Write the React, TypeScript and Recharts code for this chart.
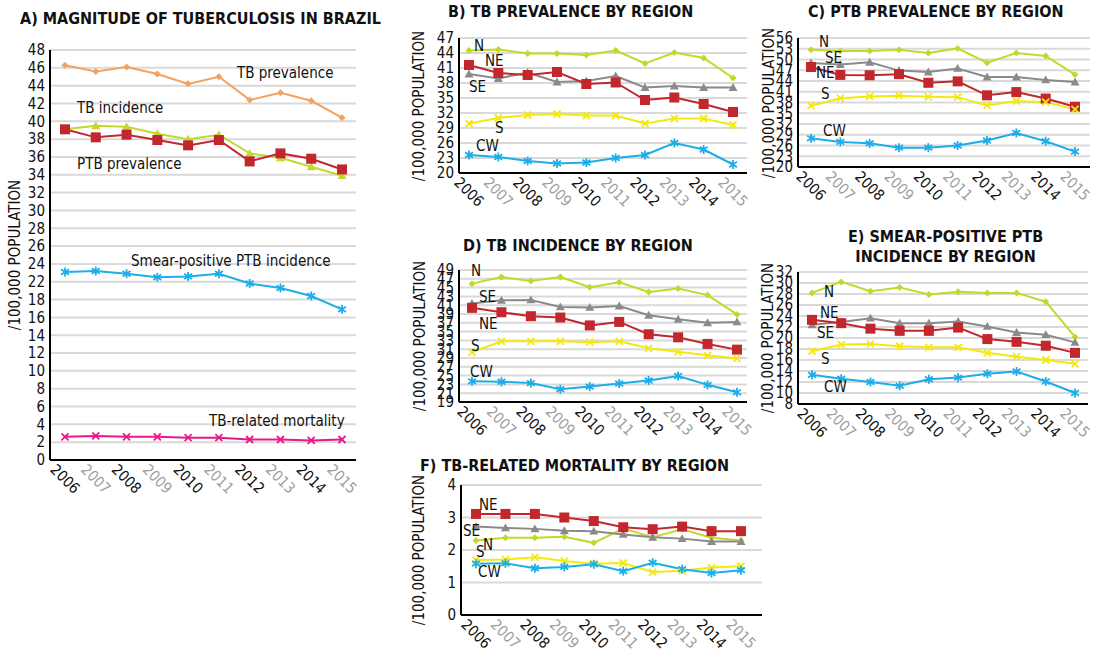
import React from "react";
import { LineChart, Line, XAxis, YAxis, CartesianGrid } from "recharts";

const FONT = "'DejaVu Sans Condensed', 'DejaVu Sans', sans-serif";

const YEARS = ["2006", "2007", "2008", "2009", "2010", "2011", "2012", "2013", "2014", "2015"];

// A) national series (per 100,000)
const A_TB_PREV = [46.3, 45.6, 46.1, 45.3, 44.2, 45.0, 42.4, 43.2, 42.3, 40.4];
const A_TB_INC = [39.1, 39.5, 39.4, 38.6, 38.0, 38.5, 36.4, 35.9, 34.9, 33.9];
const A_PTB_PREV = [39.1, 38.2, 38.5, 37.9, 37.3, 37.9, 35.5, 36.4, 35.8, 34.6];
const A_SMEAR = [23.1, 23.2, 22.9, 22.5, 22.6, 22.9, 21.6, 20.6, 18.8, 16.9];
const A_MORT = [2.6, 2.7, 2.6, 2.6, 2.5, 2.5, 2.3, 2.3, 2.2, 2.3];
// the original axis skips 20 (evenly spaced labels)
const A_TICKS = [0, 2, 4, 6, 8, 10, 12, 14, 16, 18, 22, 24, 26, 28, 30, 32, 34, 36, 38, 40, 42, 44, 46, 48];

// B) TB prevalence by region
const B_N = [44.5, 44.7, 43.9, 43.9, 43.6, 44.5, 41.9, 44.1, 43.0, 39.0];
const B_NE = [41.6, 40.0, 39.6, 40.2, 37.8, 38.1, 34.6, 35.1, 33.8, 32.2];
const B_SE = [39.8, 38.9, 40.1, 38.2, 38.4, 39.4, 37.1, 37.4, 37.1, 37.1];
const B_S = [29.9, 31.0, 31.6, 31.8, 31.5, 31.5, 29.9, 30.9, 30.9, 29.6];
const B_CW = [23.6, 23.2, 22.4, 21.9, 22.1, 23.0, 23.6, 26.0, 24.7, 21.7];

// C) PTB prevalence by region
const C_N = [52.7, 52.4, 52.4, 52.7, 51.8, 53.1, 49.1, 51.8, 51.0, 45.8];
const C_SE = [49.0, 48.6, 49.2, 46.9, 46.5, 47.5, 45.1, 45.1, 44.3, 43.7];
const C_NE = [47.9, 45.7, 45.6, 45.9, 43.5, 43.9, 40.0, 40.9, 39.1, 36.8];
const C_S = [37.1, 39.2, 39.7, 39.9, 39.6, 39.5, 37.2, 38.4, 38.1, 36.1];
const C_CW = [28.0, 27.0, 26.6, 25.4, 25.4, 26.0, 27.4, 29.5, 27.2, 24.3];

// D) TB incidence by region
const D_N = [45.9, 47.4, 46.5, 47.4, 45.1, 46.2, 44.0, 44.8, 43.3, 38.9];
const D_SE = [41.4, 42.1, 42.2, 40.6, 40.5, 40.8, 38.7, 37.8, 37.0, 37.2];
const D_NE = [40.4, 39.4, 38.5, 38.2, 36.4, 37.2, 34.4, 33.7, 32.2, 30.9];
const D_S = [30.3, 32.8, 32.8, 32.8, 32.6, 32.8, 31.2, 30.4, 29.6, 28.9];
const D_CW = [23.7, 23.6, 23.3, 21.9, 22.5, 23.2, 23.9, 24.9, 22.9, 21.2];

// E) smear-positive PTB incidence by region
const E_N = [28.2, 30.2, 28.5, 29.2, 27.9, 28.4, 28.2, 28.2, 26.6, 20.2];
const E_SE = [22.4, 22.9, 23.6, 22.7, 22.7, 23.0, 22.1, 21.0, 20.6, 19.2];
const E_NE = [23.3, 22.7, 21.7, 21.3, 21.3, 21.9, 19.8, 19.3, 18.6, 17.3];
const E_S = [17.6, 18.8, 18.9, 18.5, 18.3, 18.3, 17.3, 16.6, 16.0, 15.3];
const E_CW = [13.3, 12.6, 12.0, 11.3, 12.5, 12.8, 13.5, 13.9, 12.1, 10.0];

// F) TB-related mortality by region
const F_NE = [3.11, 3.11, 3.11, 3.0, 2.89, 2.7, 2.64, 2.72, 2.58, 2.58];
const F_SE = [2.72, 2.68, 2.65, 2.59, 2.58, 2.48, 2.39, 2.35, 2.26, 2.26];
const F_N = [2.29, 2.38, 2.38, 2.41, 2.22, 2.66, 2.39, 2.64, 2.38, 2.29];
const F_S = [1.69, 1.71, 1.78, 1.66, 1.58, 1.6, 1.32, 1.36, 1.46, 1.5];
const F_CW = [1.58, 1.59, 1.44, 1.48, 1.56, 1.35, 1.61, 1.41, 1.29, 1.38];

const GREEN = "#C6D72C";
const RED = "#C1272D";
const GRAY = "#8A8A8A";
const YELLOW = "#F4E90F";
const BLUE = "#1DADE9";
const ORANGE = "#F2A35F";
const PINK = "#E8198B";

type Shape = "diamond" | "triangle" | "square" | "x" | "star";
type Series = { key: string; values: number[]; color: string; shape: Shape; size: number };
type Note = { text: string; x: number; y: number };

const range = (a: number, b: number, step: number) => {
  const out: number[] = [];
  for (let v = a; v <= b + 1e-9; v += step) out.push(v);
  return out;
};

// position of a value on the evenly spaced (broken) axis of panel A
const toIdx = (v: number) => {
  for (let i = 0; i < A_TICKS.length - 1; i++) {
    if (v <= A_TICKS[i + 1]) return i + (v - A_TICKS[i]) / (A_TICKS[i + 1] - A_TICKS[i]);
  }
  return A_TICKS.length - 1;
};

function Marker({ cx, cy, shape, color, size }: any) {
  if (cx == null || cy == null) return null;
  const s = size / 2;
  if (shape === "diamond")
    return <polygon points={`${cx},${cy - s} ${cx + s},${cy} ${cx},${cy + s} ${cx - s},${cy}`} fill={color} />;
  if (shape === "triangle")
    return <polygon points={`${cx},${cy - s} ${cx + s},${cy + s * 0.75} ${cx - s},${cy + s * 0.75}`} fill={color} />;
  if (shape === "square") return <rect x={cx - s} y={cy - s} width={size} height={size} fill={color} />;
  if (shape === "x")
    return (
      <g stroke={color} strokeWidth={1.8}>
        <line x1={cx - s} y1={cy - s} x2={cx + s} y2={cy + s} />
        <line x1={cx - s} y1={cy + s} x2={cx + s} y2={cy - s} />
      </g>
    );
  return (
    <g stroke={color} strokeWidth={1.8}>
      <line x1={cx} y1={cy - s} x2={cx} y2={cy + s} />
      <line x1={cx - s * 0.87} y1={cy - s * 0.6} x2={cx + s * 0.87} y2={cy + s * 0.6} />
      <line x1={cx - s * 0.87} y1={cy + s * 0.6} x2={cx + s * 0.87} y2={cy - s * 0.6} />
    </g>
  );
}

const YAW = 50;
const XAH = 50;
const MT = 12;
const MR = 8;

type PanelProps = {
  left: number;
  top: number;
  right: number;
  bottom: number;
  domain: [number, number];
  ticks: number[];
  pad: [number, number];
  series: Series[];
  notes: Note[];
  labelX: number;
  mapY?: (v: number) => number;
  fmt?: (v: number) => string;
};

function Panel({ left, top, right, bottom, domain, ticks, pad, series, notes, labelX, mapY, fmt }: PanelProps) {
  const data = YEARS.map((year, i) => {
    const row: any = { year };
    series.forEach((s) => (row[s.key] = s.values[i]));
    return row;
  });
  const width = right - left + YAW + MR;
  const height = bottom - top + MT + XAH;
  const axisY = MT + (bottom - top);

  const XTick = (p: any) => {
    const cy = axisY + 19;
    return (
      <text
        x={p.x}
        y={cy}
        textAnchor="middle"
        dominantBaseline="central"
        transform={`rotate(45, ${p.x}, ${cy})`}
        fontSize={15}
        fontFamily={FONT}
        fill={p.index % 2 ? "#a0a0a0" : "#111"}
      >
        {p.payload.value}
      </text>
    );
  };

  return (
    <>
      <div style={{ position: "absolute", left: left - YAW, top: top - MT }}>
        <LineChart width={width} height={height} data={data} margin={{ top: MT, right: MR, bottom: 0, left: 0 }}>
          <CartesianGrid vertical={false} stroke="#d9d9d9" strokeWidth={2} />
          <XAxis
            dataKey="year"
            interval={0}
            height={XAH}
            padding={{ left: pad[0], right: pad[1] }}
            axisLine={{ stroke: "#000", strokeWidth: 2 }}
            tickLine={false}
            tickSize={0}
            tick={XTick}
          />
          <YAxis
            width={YAW}
            type="number"
            domain={domain}
            ticks={ticks}
            interval={0}
            allowDataOverflow
            axisLine={{ stroke: "#000", strokeWidth: 2 }}
            tickLine={false}
            tickSize={3}
            tickMargin={2}
            tickFormatter={fmt}
            tick={{ fontSize: 15, fill: "#111", fontFamily: FONT }}
          />
          {series.map((s) => (
            <Line
              key={s.key}
              dataKey={mapY ? (row: any) => mapY(row[s.key]) : s.key}
              stroke={s.color}
              strokeWidth={2}
              isAnimationActive={false}
              activeDot={false}
              dot={(p: any) => (
                <Marker key={`${s.key}-${p.index}`} cx={p.cx} cy={p.cy} shape={s.shape} color={s.color} size={s.size} />
              )}
            />
          ))}
        </LineChart>
      </div>
      <div
        style={{
          position: "absolute",
          left: labelX,
          top: (top + bottom) / 2,
          transform: "translate(-50%, -50%) rotate(-90deg)",
          fontSize: 15,
          whiteSpace: "nowrap",
          color: "#111",
        }}
      >
        /100,000 POPULATION
      </div>
      {notes.map((n) => (
        <div
          key={n.text}
          style={{
            position: "absolute",
            left: n.x,
            top: n.y - 10,
            lineHeight: "20px",
            fontSize: 15,
            whiteSpace: "nowrap",
            color: "#111",
          }}
        >
          {n.text}
        </div>
      ))}
    </>
  );
}

const regional = (n: number[], ne: number[], se: number[], s: number[], cw: number[]): Series[] => [
  { key: "N", values: n, color: GREEN, shape: "diamond", size: 7 },
  { key: "SE", values: se, color: GRAY, shape: "triangle", size: 9 },
  { key: "NE", values: ne, color: RED, shape: "square", size: 10 },
  { key: "S", values: s, color: YELLOW, shape: "x", size: 7 },
  { key: "CW", values: cw, color: BLUE, shape: "star", size: 9 },
];

function Title({ x, y, lines }: { x: number; y: number; lines: string[] }) {
  return (
    <div
      style={{
        position: "absolute",
        left: x,
        top: y - 10,
        fontSize: 16,
        fontWeight: "bold",
        lineHeight: "20px",
        whiteSpace: "nowrap",
        textAlign: "center",
        color: "#111",
      }}
    >
      {lines.map((l) => (
        <div key={l}>{l}</div>
      ))}
    </div>
  );
}

export default function App() {
  const seriesA: Series[] = [
    { key: "tbPrev", values: A_TB_PREV, color: ORANGE, shape: "diamond", size: 7 },
    { key: "tbInc", values: A_TB_INC, color: GREEN, shape: "triangle", size: 9 },
    { key: "ptbPrev", values: A_PTB_PREV, color: RED, shape: "square", size: 10 },
    { key: "smear", values: A_SMEAR, color: BLUE, shape: "star", size: 9 },
    { key: "mort", values: A_MORT, color: PINK, shape: "x", size: 7 },
  ];

  return (
    <div
      style={{
        position: "absolute",
        left: 0,
        top: 0,
        width: 1103,
        height: 656,
        background: "#fff",
        fontFamily: FONT,
        overflow: "hidden",
      }}
    >
      <Title x={20} y={19} lines={["A) MAGNITUDE OF TUBERCULOSIS IN BRAZIL"]} />
      <Title x={448} y={12} lines={["B) TB PREVALENCE BY REGION"]} />
      <Title x={808} y={12} lines={["C) PTB PREVALENCE BY REGION"]} />
      <Title x={463} y={246} lines={["D) TB INCIDENCE BY REGION"]} />
      <Title x={848} y={237} lines={["E) SMEAR-POSITIVE PTB", "INCIDENCE BY REGION"]} />
      <Title x={420} y={466} lines={["F) TB-RELATED MORTALITY BY REGION"]} />

      <Panel
        left={50}
        top={50}
        right={356}
        bottom={460}
        domain={[0, A_TICKS.length - 1]}
        ticks={A_TICKS.map((_, i) => i)}
        fmt={(i) => String(A_TICKS[i])}
        mapY={toIdx}
        pad={[15, 14]}
        series={seriesA}
        labelX={15}
        notes={[
          { text: "TB prevalence", x: 237, y: 73 },
          { text: "TB incidence", x: 77, y: 108 },
          { text: "PTB prevalence", x: 77, y: 164 },
          { text: "Smear-positive PTB incidence", x: 131, y: 261 },
          { text: "TB-related mortality", x: 209, y: 421 },
        ]}
      />

      <Panel
        left={459}
        top={38}
        right={747}
        bottom={173}
        domain={[20, 47]}
        ticks={range(20, 47, 3)}
        pad={[10, 14]}
        series={regional(B_N, B_NE, B_SE, B_S, B_CW)}
        labelX={419}
        notes={[
          { text: "N", x: 474, y: 46 },
          { text: "NE", x: 485, y: 61 },
          { text: "SE", x: 469, y: 87 },
          { text: "S", x: 495, y: 128 },
          { text: "CW", x: 476, y: 146 },
        ]}
      />

      <Panel
        left={798}
        top={38}
        right={1090}
        bottom={167}
        domain={[20, 56]}
        ticks={range(20, 56, 3)}
        pad={[13, 15]}
        series={regional(C_N, C_NE, C_SE, C_S, C_CW)}
        labelX={769}
        notes={[
          { text: "N", x: 819, y: 42 },
          { text: "SE", x: 825, y: 58 },
          { text: "NE", x: 816, y: 73 },
          { text: "S", x: 821, y: 94 },
          { text: "CW", x: 823, y: 131 },
        ]}
      />

      <Panel
        left={459}
        top={270}
        right={747}
        bottom={402}
        domain={[19, 49]}
        ticks={range(19, 49, 2)}
        pad={[13, 10]}
        series={regional(D_N, D_NE, D_SE, D_S, D_CW)}
        labelX={420}
        notes={[
          { text: "N", x: 471, y: 271 },
          { text: "SE", x: 479, y: 297 },
          { text: "NE", x: 479, y: 324 },
          { text: "S", x: 471, y: 346 },
          { text: "CW", x: 470, y: 372 },
        ]}
      />

      <Panel
        left={798}
        top={272}
        right={1088}
        bottom={404}
        domain={[8, 32]}
        ticks={range(8, 32, 2)}
        pad={[14, 13]}
        series={regional(E_N, E_NE, E_SE, E_S, E_CW)}
        labelX={768}
        notes={[
          { text: "N", x: 824, y: 292 },
          { text: "NE", x: 820, y: 313 },
          { text: "SE", x: 817, y: 333 },
          { text: "S", x: 821, y: 359 },
          { text: "CW", x: 824, y: 387 },
        ]}
      />

      <Panel
        left={461}
        top={485}
        right={762}
        bottom={615}
        domain={[0, 4]}
        ticks={range(0, 4, 1)}
        pad={[15, 21]}
        series={regional(F_N, F_NE, F_SE, F_S, F_CW)}
        labelX={419}
        notes={[
          { text: "NE", x: 479, y: 505 },
          { text: "SE", x: 463, y: 531 },
          { text: "N", x: 483, y: 545 },
          { text: "S", x: 476, y: 552 },
          { text: "CW", x: 478, y: 572 },
        ]}
      />
    </div>
  );
}
